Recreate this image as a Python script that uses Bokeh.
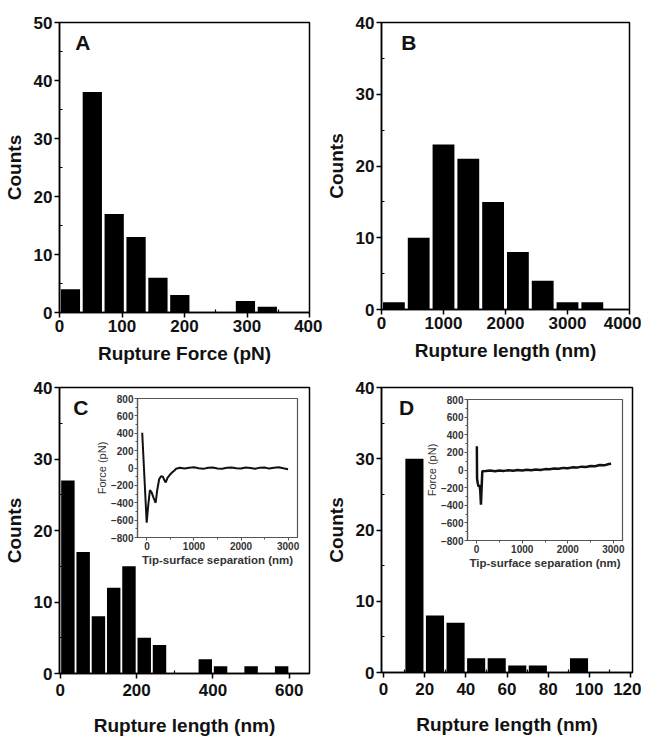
from bokeh.plotting import figure
from bokeh.layouts import column, row
from bokeh.models import Label, FixedTicker, Range1d
from bokeh.embed import file_html
from bokeh.resources import INLINE

FONT = "Liberation Sans"

# ---------------- data ----------------
a_edges = [0, 35, 70, 105, 140, 175, 210, 245, 280, 315, 350]
a_counts = [4, 38, 17, 13, 6, 3, 0, 0, 2, 1]

b_edges = [0, 400, 800, 1200, 1600, 2000, 2400, 2800, 3200, 3600]
b_counts = [1, 10, 23, 21, 15, 8, 4, 1, 1]

c_edges = [0, 40, 80, 120, 160, 200, 240, 280, 320, 360, 400, 440, 480, 520, 560, 600]
c_counts = [27, 17, 8, 12, 15, 5, 4, 0, 0, 2, 1, 0, 1, 0, 1]

d_edges = [0, 10, 20, 30, 40, 50, 60, 70, 80, 90, 100]
d_counts = [0, 30, 8, 7, 2, 2, 1, 1, 0, 2]

# inset force curves (separation nm, force pN)
c_sep = [-100, -5, 30, 64, 100, 140, 186, 220, 260, 300, 340, 370, 400, 440, 492, 540, 585, 620,
         700, 800, 900, 1000, 1100, 1200, 1300, 1400, 1500, 1600, 1700, 1800, 1900, 2000,
         2100, 2200, 2300, 2400, 2500, 2600, 2700, 2800, 2900, 3000]
c_force = [405, -630, -420, -255, -280, -340, -400, -250, -130, -95, -100, -140, -165, -110, -75, -50, -29, -8,
           2, -6, 4, 8, -4, -10, 2, 6, -5, -8, 3, 7, -3, -6, 5, 0, -9, 4, 6, -7, 2, 8, -4, -14]

d_sep = [5, 10, 25, 45, 65, 80, 95, 110, 125,
         200, 300, 400, 500, 600, 700, 800, 900, 1000, 1100, 1200, 1300, 1400, 1500, 1600,
         1700, 1800, 1900, 2000, 2100, 2200, 2300, 2400, 2500, 2600, 2700, 2800, 2900, 2950]
d_force = [270, -100, -150, -190, -170, -240, -395, -200, -15,
           -12, -6, -14, -5, -10, -2, -9, -1, -6, 3, -3, 6, 1, 10, 8,
           16, 14, 24, 20, 30, 27, 38, 35, 46, 43, 56, 53, 68, 72]

# tick labels
a_xticks = [0, 100, 200, 300, 400]
a_yticks = [0, 10, 20, 30, 40, 50]
b_xticks = [0, 1000, 2000, 3000, 4000]
b_yticks = [0, 10, 20, 30, 40]
c_xticks = [0, 200, 400, 600]
c_yticks = [0, 10, 20, 30, 40]
d_xticks = [0, 20, 40, 60, 80, 100, 120]
d_yticks = [0, 10, 20, 30, 40]
ins_xticks = [0, 1000, 2000, 3000]
ins_yticks = [-800, -600, -400, -200, 0, 200, 400, 600, 800]


def mids(t):
    return [(t[i] + t[i + 1]) / 2 for i in range(len(t) - 1)]


def hist_panel(edges, counts, xr, yr, xt, xm, yt, ym, fw, fh, bl, br, bt, bb,
               xlabel, letter, lx, ly, xstand, xlstand):
    p = figure(frame_width=fw, frame_height=fh,
               x_range=Range1d(*xr), y_range=Range1d(*yr),
               min_border_left=bl, min_border_right=br,
               min_border_top=bt, min_border_bottom=bb,
               output_backend="svg", toolbar_location=None)
    centers = mids(edges)
    w = (edges[1] - edges[0]) * 0.88
    p.vbar(x=centers, top=counts, width=w, bottom=0,
           fill_color="black", line_color=None)
    p.grid.visible = False
    p.outline_line_color = "black"
    p.outline_line_width = 1.5
    p.background_fill_color = "white"
    p.border_fill_color = "white"
    p.xaxis.ticker = FixedTicker(ticks=xt, minor_ticks=xm)
    p.yaxis.ticker = FixedTicker(ticks=yt, minor_ticks=ym)
    p.xaxis.axis_label = xlabel
    p.yaxis.axis_label = "Counts"
    for ax in p.axis:
        ax.axis_line_width = 1.5
        ax.axis_line_color = "black"
        ax.major_tick_line_width = 1.5
        ax.minor_tick_line_width = 1.2
        ax.major_tick_out = 5
        ax.major_tick_in = 0
        ax.minor_tick_out = 0
        ax.minor_tick_in = 3
        ax.major_label_text_font = FONT
        ax.major_label_text_font_size = "17px"
        ax.major_label_text_font_style = "bold"
        ax.major_label_text_color = "#111111"
        ax.axis_label_text_font = FONT
        ax.axis_label_text_font_size = "19px"
        ax.axis_label_text_font_style = "bold"
        ax.axis_label_text_color = "#111111"
        ax.major_label_standoff = 2
    p.yaxis.axis_label_standoff = 6
    p.xaxis.major_label_standoff = xlstand
    p.xaxis.axis_label_standoff = xstand
    p.add_layout(Label(x=lx, y=ly, text=letter, text_font=FONT, text_font_size="21px",
                       text_font_style="bold", text_baseline="top", text_align="left",
                       text_color="#111111"))
    return p


def inset_panel(sep, force, fw, fh, lw):
    p = figure(frame_width=fw, frame_height=fh,
               x_range=Range1d(-200, 3200), y_range=Range1d(-800, 800),
               min_border_left=43, min_border_right=3, min_border_top=6, min_border_bottom=30,
               output_backend="svg", toolbar_location=None)
    p.line(sep, force, line_color="#111111", line_width=lw)
    p.grid.visible = False
    p.background_fill_color = None
    p.border_fill_color = None
    p.outline_line_color = "#555555"
    p.outline_line_width = 1.2
    p.xaxis.ticker = FixedTicker(ticks=ins_xticks, minor_ticks=[-500, 500, 1500, 2500])
    p.yaxis.ticker = FixedTicker(ticks=ins_yticks, minor_ticks=mids(ins_yticks))
    p.xaxis.axis_label = "Tip-surface separation (nm)"
    p.yaxis.axis_label = "Force (pN)"
    for ax in p.axis:
        ax.axis_line_color = "#555555"
        ax.axis_line_width = 1.2
        ax.major_tick_line_color = "#555555"
        ax.minor_tick_line_color = "#555555"
        ax.major_tick_out = 3
        ax.major_tick_in = 0
        ax.minor_tick_out = 2
        ax.minor_tick_in = 0
        ax.major_label_text_font = FONT
        ax.major_label_text_font_size = "10px"
        ax.major_label_text_font_style = "bold"
        ax.major_label_text_color = "#333333"
        ax.major_label_standoff = 1
        ax.axis_label_text_font = FONT
        ax.axis_label_text_color = "#333333"
    p.xaxis.axis_label_text_font_size = "11.5px"
    p.xaxis.axis_label_text_font_style = "bold"
    p.xaxis.axis_label_standoff = 1
    p.yaxis.axis_label_text_font_size = "11px"
    p.yaxis.axis_label_text_font_style = "normal"
    p.yaxis.axis_label_standoff = 0
    return p


pA = hist_panel(a_edges, a_counts, (0, 400), (0, 50), a_xticks, mids(a_xticks),
                a_yticks, mids(a_yticks), 250, 290, 54, 13, 21, 58,
                "Rupture Force (pN)", "A", 25, 48.5, 8, 2)
pB = hist_panel(b_edges, b_counts, (0, 4000), (0, 40), b_xticks, mids(b_xticks),
                b_yticks, mids(b_yticks), 248, 287, 57, 12, 22, 60,
                "Rupture length (nm)", "B", 320, 38.8, 8, 2)
pC = hist_panel(c_edges, c_counts, (-2, 653), (0, 40), c_xticks, [100, 300, 500],
                c_yticks, mids(c_yticks), 250, 286, 54, 13, 18, 58,
                "Rupture length (nm)", "C", 34, 38.8, 16, 5)
pD = hist_panel(d_edges, d_counts, (-1, 121), (0, 40), d_xticks, mids(d_xticks),
                d_yticks, mids(d_yticks), 251, 285, 57, 9, 18, 59,
                "Rupture length (nm)", "D", 7.5, 38.8, 16, 5)

insC = inset_panel(c_sep, c_force, 160, 139, 2)
insD = inset_panel(d_sep, d_force, 155, 141, 2.5)
insC.styles = {"position": "absolute", "left": "92px", "top": "392px"}
insD.styles = {"position": "absolute", "left": "422px", "top": "393px"}

layout = column(row(pA, pB), row(pC, pD), insC, insD)

open("out.html", "w").write(file_html(layout, INLINE))
